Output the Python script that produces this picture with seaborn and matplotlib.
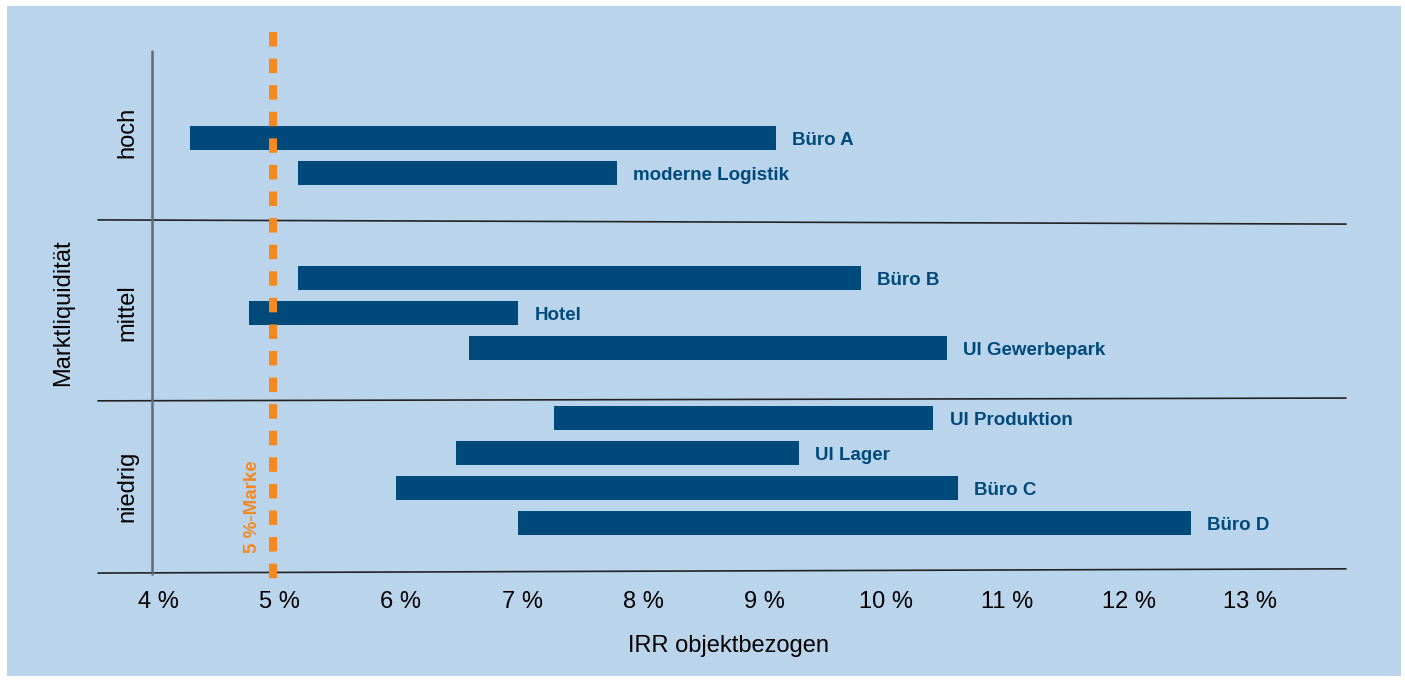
import numpy as np
import pandas as pd
import seaborn as sns
import matplotlib.pyplot as plt
from matplotlib.patches import Rectangle

# Daten (IRR-Spannen je Objekt)
projekte = ["Büro A", "moderne Logistik", "Büro B", "Hotel", "UI Gewerbepark",
            "UI Produktion", "UI Lager", "Büro C", "Büro D"]
liquiditaet = ["hoch", "hoch", "mittel", "mittel", "mittel",
               "niedrig", "niedrig", "niedrig", "niedrig"]
irr_von = [4.26, 5.15, 5.15, 4.75, 6.56, 7.26, 6.46, 5.96, 6.97]
irr_bis = [9.09, 7.78, 9.79, 6.97, 10.50, 10.39, 9.28, 10.59, 12.51]
gruppen = ["hoch", "mittel", "niedrig"]
ticks = list(range(4, 14))
tick_labels = [f"{t} %" for t in ticks]
marke = 4.95

BG = "#BAD4EC"
BAR = "#004A7B"
ORANGE = "#F5891F"

sns.set_theme(style="white", rc={"text.color": "black"})
plt.rcParams["font.family"] = ["Liberation Sans", "DejaVu Sans"]

df = pd.DataFrame(dict(projekt=projekte, liq=liquiditaet, von=irr_von, bis=irr_bis))
luecke = {"hoch": 0, "mittel": 2, "niedrig": 3}
df["pos"] = np.arange(len(df)) + df["liq"].map(luecke)

W, H = 1405, 682
fig = plt.figure(figsize=(W / 100, H / 100), dpi=100, facecolor="white")
fig.patches.append(Rectangle((7 / W, 6 / H), 1394 / W, 670 / H, transform=fig.transFigure,
                             facecolor=BG, edgecolor="none", zorder=-1))
ax = fig.add_axes([98 / W, 102 / H, 1248 / W, 550 / H])
ax.set_facecolor("none")
sns.despine(ax=ax, left=True, bottom=True)

x0, x1 = 3.5055, 13.791
ax.set_xlim(x0, x1)
ax.set_ylim(12.629, -3.086)

ax.barh(df["pos"], df["bis"] - df["von"], left=df["von"], height=24 / 35,
        color=BAR, edgecolor="none", linewidth=0, zorder=1)
for _, r in df.iterrows():
    ax.annotate(r["projekt"], (r["bis"], r["pos"]), xytext=(12, -1.5),
                textcoords="offset points", va="center", ha="left",
                fontsize=13.5, fontweight="bold", color=BAR)

# Trennlinien und Achse
for yl, yr in [(2.34, 2.46), (7.51, 7.43), (12.43, 12.31)]:
    ax.plot([x0, x1], [yl, yr], color="#222222", lw=1.2, clip_on=False, zorder=0)
ax.plot([3.95, 3.95], [-2.49, 12.45], color="#5F6B77", lw=1.8, clip_on=False, zorder=0)

# 5 %-Marke
ax.plot([marke, marke], [-3.03, 12.6], color=ORANGE, lw=5.8,
        linestyle=(0, (1.8, 1.5)), clip_on=False, zorder=3)
ax.text(4.78, 10.54, "5 %-Marke", rotation=90, ha="center", va="center",
        fontsize=13.5, fontweight="bold", color=ORANGE)

for g, yy in zip(gruppen, [-0.15, 5.0, 9.95]):
    ax.text(3.75, yy, g, rotation=90, ha="center", va="center", fontsize=17, color="black")

ax.set_xticks(ticks, tick_labels, fontsize=17)
ax.set_yticks([])
ax.tick_params(axis="x", length=0, pad=8, colors="black")

fig.text(729 / W, 1 - 646 / H, "IRR objektbezogen", ha="center", va="center",
         fontsize=17, color="black")
fig.text(63 / W, 1 - 313 / H, "Marktliquidität", rotation=90, ha="center", va="center",
         fontsize=17, color="black")

fig.savefig("out.png", dpi=100, facecolor=fig.get_facecolor())
